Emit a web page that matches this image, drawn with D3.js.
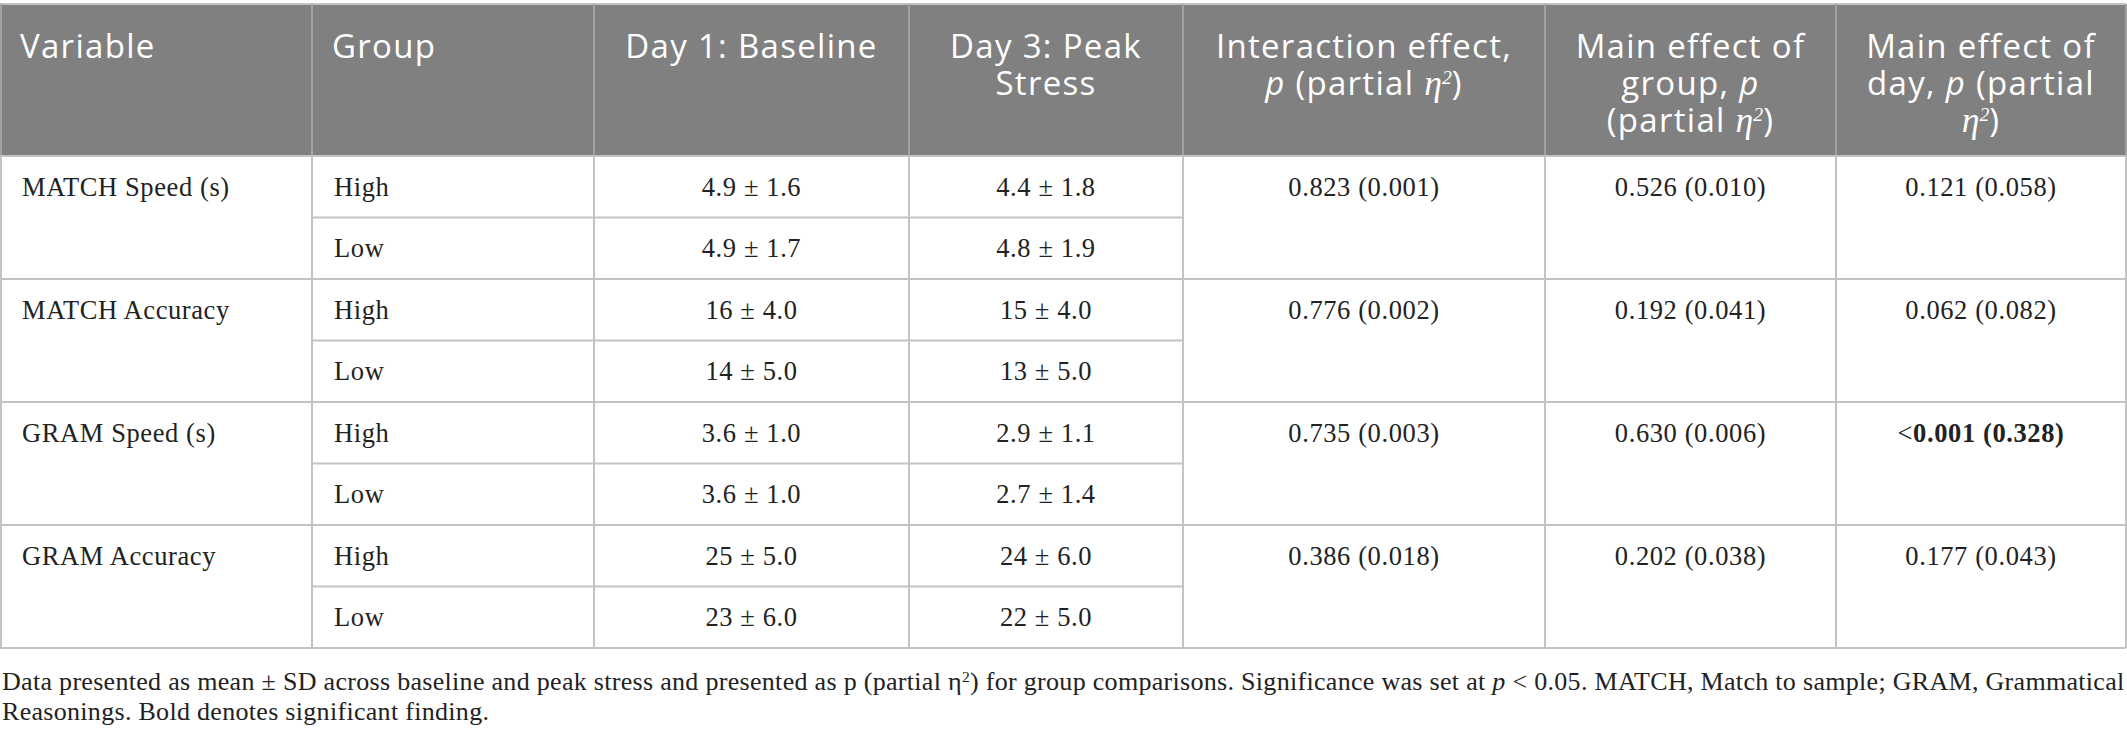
<!DOCTYPE html>
<html>
<head>
<meta charset="utf-8">
<script src="https://cdn.jsdelivr.net/npm/d3@7"></script>
<style>
  html, body { margin: 0; padding: 0; background: #fff; }
  svg { display: block; }
</style>
</head>
<body>
<script>
// table content
const headerLines = [
    ["Variable"],
    ["Group"],
    ["Day 1: Baseline"],
    ["Day 3: Peak", "Stress"],
    ["Interaction effect,", "p (partial η2)"],
    ["Main effect of", "group, p", "(partial η2)"],
    ["Main effect of", "day, p (partial", "η2)"]
];
const variables = ["MATCH Speed (s)", "MATCH Accuracy", "GRAM Speed (s)", "GRAM Accuracy"];
const groups = ["High", "Low"];
const day1 = [["4.9 ± 1.6", "4.9 ± 1.7"], ["16 ± 4.0", "14 ± 5.0"], ["3.6 ± 1.0", "3.6 ± 1.0"], ["25 ± 5.0", "23 ± 6.0"]];
const day3 = [["4.4 ± 1.8", "4.8 ± 1.9"], ["15 ± 4.0", "13 ± 5.0"], ["2.9 ± 1.1", "2.7 ± 1.4"], ["24 ± 6.0", "22 ± 5.0"]];
const interaction = ["0.823 (0.001)", "0.776 (0.002)", "0.735 (0.003)", "0.386 (0.018)"];
const groupEffect = ["0.526 (0.010)", "0.192 (0.041)", "0.630 (0.006)", "0.202 (0.038)"];
const dayEffect = ["0.121 (0.058)", "0.062 (0.082)", "<0.001 (0.328)", "0.177 (0.043)"];
const significant = ["<0.001 (0.328)"];
const footnote = [
    "Data presented as mean ± SD across baseline and peak stress and presented as p (partial η2) for group comparisons. Significance was set at *p < 0.05. MATCH, Match to sample; GRAM, Grammatical",
    "Reasonings. Bold denotes significant finding."
];

// layout
const W = 2127, H = 737;
const colEdges = [0, 312, 594, 909, 1183, 1545, 1836, 2126];
const headTop = 4, headBottom = 156, bodyBottom = 648;
const sans = "'Open Sans', 'Noto Sans', sans-serif";
const serif = "'Liberation Serif', 'DejaVu Serif', serif";
const gridColor = "#c3c3c3";

const svg = d3.select("body").append("svg")
    .attr("width", W)
    .attr("height", H);

// one row key per variable/group pair
const rowKeys = [];
variables.forEach((v, i) => groups.forEach(g => rowKeys.push(i + "-" + g)));

const y = d3.scaleBand()
    .domain(rowKeys)
    .range([headBottom, bodyBottom]);

const colX = d3.scaleOrdinal()
    .domain(d3.range(headerLines.length))
    .range(colEdges.slice(0, -1));
const colW = i => colEdges[i + 1] - colEdges[i];

// header background
svg.append("rect")
    .attr("x", 0).attr("y", headTop)
    .attr("width", colEdges[colEdges.length - 1])
    .attr("height", headBottom - headTop)
    .attr("fill", "#808080");

// header text: one <text> per column, first tspan of each line gets x/dy
function addRich(textSel, line, x, dy) {
    // split out "p" (italic) and "η2" (italic eta + superscript)
    const parts = line.split(/(\bp\b|η2)/).filter(p => p !== "");
    parts.forEach((part, k) => {
        let ts;
        if (part === "p") {
            ts = textSel.append("tspan").attr("font-style", "italic").text("p");
        } else if (part === "η2") {
            ts = textSel.append("tspan").attr("font-family", serif).attr("font-style", "italic")
                .attr("font-size", "1.08em").attr("letter-spacing", 0).text("η");
            textSel.append("tspan").attr("font-family", serif).attr("font-style", "italic")
                .attr("font-size", "0.6em").attr("baseline-shift", "super").attr("letter-spacing", 0).text("2");
        } else {
            ts = textSel.append("tspan").text(part);
        }
        if (k === 0) ts.attr("x", x).attr("dy", dy);
    });
}

const head = svg.append("g").attr("class", "header");
headerLines.forEach((lines, i) => {
    const left = i < 2;
    const x = left ? colX(i) + 20 : colX(i) + colW(i) / 2;
    const t = head.append("text")
        .attr("x", x)
        .attr("y", headTop + 54)
        .attr("text-anchor", left ? "start" : "middle")
        .attr("font-family", sans)
        .attr("font-size", 33)
        .attr("letter-spacing", 1.3)
        .attr("fill", "#fff");
    lines.forEach((line, j) => addRich(t, line, x, j === 0 ? 0 : 37));
});

// body cells
const body = svg.append("g").attr("class", "body");
const textY = key => y(key) + y.bandwidth() / 2 + 9;

function cell(colIdx, key, str, align) {
    const t = body.append("text")
        .attr("x", align === "start" ? colX(colIdx) + 22 : colX(colIdx) + colW(colIdx) / 2)
        .attr("y", textY(key))
        .attr("text-anchor", align)
        .attr("font-family", serif)
        .attr("font-size", 26.5)
        .attr("letter-spacing", 0.6)
        .attr("fill", "#222");
    if (significant.includes(str)) {
        t.append("tspan").text(str[0]);
        t.append("tspan").attr("font-weight", "bold").text(str.slice(1));
    } else {
        t.text(str);
    }
}

variables.forEach((v, i) => {
    const k0 = i + "-" + groups[0];
    cell(0, k0, v, "start");
    groups.forEach((g, gi) => {
        const k = i + "-" + g;
        cell(1, k, g, "start");
        cell(2, k, day1[i][gi], "middle");
        cell(3, k, day3[i][gi], "middle");
    });
    cell(4, k0, interaction[i], "middle");
    cell(5, k0, groupEffect[i], "middle");
    cell(6, k0, dayEffect[i], "middle");
});

// grid lines
const grid = svg.append("g").attr("class", "grid")
    .attr("stroke", gridColor).attr("stroke-width", 2);

// top border
grid.append("line")
    .attr("x1", 0).attr("x2", colEdges[colEdges.length - 1])
    .attr("y1", headTop).attr("y2", headTop);

// verticals (header part slightly darker on grey)
colEdges.forEach((x, i) => {
    const xx = i === 0 ? 1 : x;
    grid.append("line")
        .attr("x1", xx).attr("x2", xx)
        .attr("y1", headTop).attr("y2", headBottom)
        .attr("stroke", "#a2a2a2");
    grid.append("line")
        .attr("x1", xx).attr("x2", xx)
        .attr("y1", headBottom).attr("y2", bodyBottom);
});

// horizontal line under header and between variables
variables.forEach((v, i) => {
    const k = i + "-" + groups[0];
    grid.append("line")
        .attr("x1", 0).attr("x2", colEdges[colEdges.length - 1])
        .attr("y1", y(k)).attr("y2", y(k));
    // between High and Low, only for group and day columns
    const k1 = i + "-" + groups[1];
    grid.append("line")
        .attr("x1", colEdges[1]).attr("x2", colEdges[4])
        .attr("y1", y(k1)).attr("y2", y(k1));
});
grid.append("line")
    .attr("x1", 0).attr("x2", colEdges[colEdges.length - 1])
    .attr("y1", bodyBottom).attr("y2", bodyBottom);

// footnote
footnote.forEach((line, j) => {
    const t = svg.append("text")
        .attr("x", 2)
        .attr("y", 690 + j * 30)
        .attr("font-family", serif)
        .attr("font-size", 26)
        .attr("letter-spacing", 0.3)
        .attr("fill", "#222");
    const parts = line.split(/(η2|\*p)/);
    parts.forEach(part => {
        if (part === "") return;
        if (part === "η2") {
            t.append("tspan").text("η");
            t.append("tspan").attr("font-size", "0.6em").attr("baseline-shift", "super").text("2");
        } else if (part === "*p") {
            t.append("tspan").attr("font-style", "italic").text("p");
        } else {
            t.append("tspan").text(part);
        }
    });
});
</script>
</body>
</html>
